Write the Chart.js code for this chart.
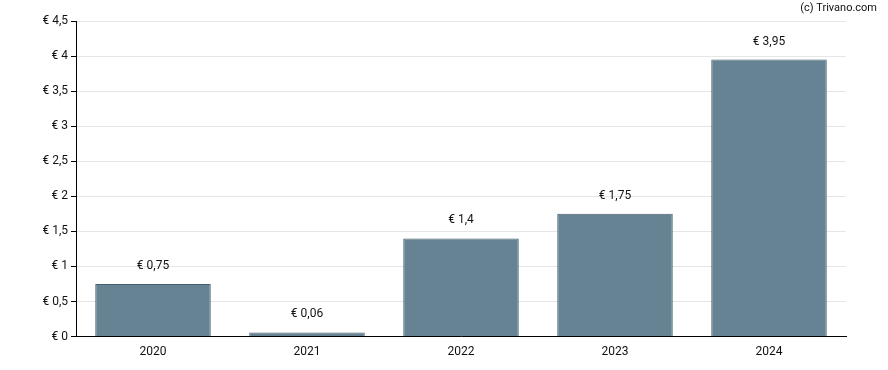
<!DOCTYPE html>
<html><head><meta charset="utf-8">
<script src="https://cdn.jsdelivr.net/npm/chart.js@4/dist/chart.umd.min.js"></script>
<style>html,body{margin:0;padding:0;background:#fff}#w{width:888px;height:370px}</style>
</head><body><div id="w"><canvas id="c"></canvas></div>
<script>
const categories = ['2020','2021','2022','2023','2024'];
const values = [0.75, 0.06, 1.4, 1.75, 3.95];
const yTicks = [0,0.5,1,1.5,2,2.5,3,3.5,4,4.5];
const fmt = v => '€ ' + String(v).replace('.', ',');

const labelsPlugin = {
  id: 'lbl',
  afterDatasetsDraw(chart) {
    const ctx = chart.ctx;
    const meta = chart.getDatasetMeta(0);
    ctx.save();
    ctx.font = '12px Roboto';
    ctx.fillStyle = '#111';
    ctx.textAlign = 'center';
    ctx.textBaseline = 'middle';
    meta.data.forEach((bar, i) => {
      ctx.fillText(fmt(values[i]), bar.x, bar.y - 18);
    });
    ctx.textAlign = 'right';
    ctx.font = '11px Roboto';
    ctx.fillText('(c) Trivano.com', 877, 8);
    ctx.restore();
  }
};

new Chart(document.getElementById('c'), {
  type: 'bar',
  data: { labels: categories, datasets: [{
    data: values,
    backgroundColor: '#668394',
    borderColor: '#45606f',
    borderWidth: 1,
    inflateAmount: 0,
    categoryPercentage: 0.75,
    barPercentage: 1
  }]},
  options: {
    responsive: true, maintainAspectRatio: false, animation: false,
    layout: { padding: { top: 21, right: 42, bottom: 3, left: 0 } },
    plugins: { legend: { display: false }, tooltip: { enabled: false } },
    scales: {
      x: {
        grid: { display: false, drawTicks: false },
        border: { color: '#000', width: 1 },
        ticks: { color: '#111', font: { family: 'Roboto', size: 12 }, padding: 8 }
      },
      y: {
        min: 0, max: 4.5,
        afterBuildTicks: s => { s.ticks = yTicks.map(v => ({ value: v })); },
        afterFit: s => { s.width = 76; },
        grid: { color: '#e6e6e6', tickColor: '#000', tickLength: 5 },
        border: { color: '#000', width: 1 },
        ticks: { color: '#111', font: { family: 'Roboto', size: 12 }, padding: 3, callback: v => fmt(v) }
      }
    }
  },
  plugins: [labelsPlugin]
});
</script></body></html>
